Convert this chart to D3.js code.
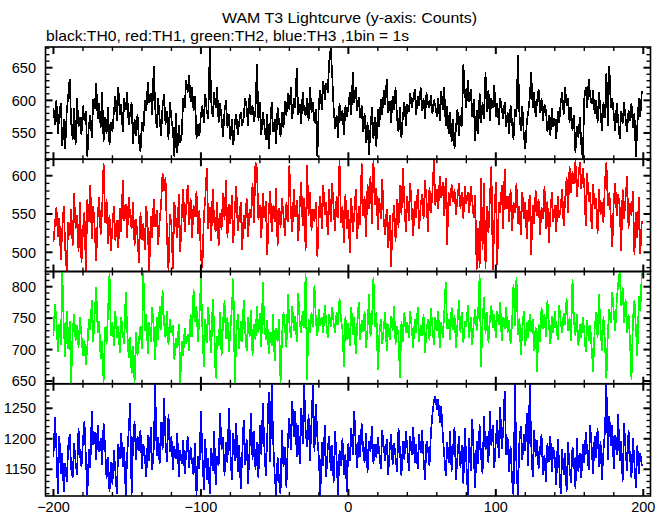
<!DOCTYPE html>
<html>
<head>
<meta charset="utf-8">
<script src="https://cdn.jsdelivr.net/npm/d3@7"></script>
<style>
  html, body { margin: 0; padding: 0; background: #fff; }
  svg { display: block; }
  text { font-family: "Liberation Sans", Arial, sans-serif; fill: #000; }
</style>
</head>
<body>
<div id="chart"></div>
<script>
// ---------------- DATA ----------------
const titleText = "WAM T3 Lightcurve (y-axis: Counts)";
const subtitleText = "black:TH0, red:TH1, green:TH2, blue:TH3 ,1bin = 1s";
const seriesNames = ["TH0", "TH1", "TH2", "TH3"];
const seriesColors = ["#000000", "#ff0000", "#00ff00", "#0000ff"];
const times = d3.range(-200, 200); // 1 s bins
const xTickLabels = [-200, -100, 0, 100, 200];
const yTickLabels = [[550, 600, 650], [500, 550, 600], [650, 700, 750, 800], [1150, 1200, 1250]];
const yDomains = [[509.8, 681.7], [474.9, 621.5], [645.6, 824.2], [1106.2, 1290.2]];

const th0 = [
589,562,601,548,579,596,530,571,526,583,607,633,566,540,588,531,604,559,575,547,
592,569,584,514,561,578,543,602,587,626,571,596,558,612,537,575,548,589,531,566,
552,583,607,569,620,578,594,551,603,585,613,562,580,597,533,571,546,579,538,521,
567,552,601,584,628,596,611,578,652,589,557,604,572,546,591,609,563,584,540,598,
571,556,514,580,520,562,535,548,603,588,631,612,638,597,621,584,606,541,563,545,
578,592,566,609,583,571,681,598,574,612,588,620,565,596,574,544,583,601,558,579,
540,571,531,566,579,547,568,582,561,574,604,588,561,610,577,593,567,585,655,569,
598,547,582,563,540,579,525,561,597,552,571,533,589,566,544,582,558,599,576,611,
586,620,571,604,589,650,578,595,564,612,585,577,603,568,620,581,597,566,586,513,
598,616,585,630,601,627,612,659,680,641,589,556,578,543,596,568,585,547,592,575,
589,612,577,643,596,621,584,605,573,592,551,580,534,567,517,558,589,541,574,529,
586,560,602,578,615,593,632,581,599,566,607,585,620,574,551,589,542,576,598,561,
594,583,611,589,602,617,578,606,591,620,584,603,572,612,595,588,608,579,601,592,
575,603,569,614,586,620,561,592,548,582,536,571,525,559,587,546,578,560,655,612,
589,631,597,618,574,602,538,585,549,611,566,597,571,643,582,616,569,604,588,623,
575,596,563,604,587,571,598,559,582,548,593,567,540,586,574,670,579,553,591,547,
525,566,582,604,643,589,612,574,598,617,581,603,569,594,585,551,577,546,588,560,
572,541,583,565,597,612,578,620,591,604,566,589,553,578,520,561,543,575,532,510,
602,621,588,632,607,594,615,579,601,566,612,584,553,597,573,642,560,653,588,604,
579,553,596,568,541,583,564,597,572,551,585,569,596,557,580,513,562,603,575,614
];
const th1 = [
513,537,559,520,545,490,531,561,503,475,539,522,556,508,577,531,549,500,565,486,
528,553,475,569,540,588,518,561,530,488,547,572,523,556,617,538,570,511,549,502,
534,561,515,542,506,558,527,594,541,563,519,572,548,530,565,508,543,521,486,552,
516,538,503,561,529,476,547,519,570,533,555,509,541,562,604,580,598,521,476,550,
535,478,566,541,519,576,501,548,583,527,559,588,536,571,519,562,546,580,524,555,
492,480,547,572,610,531,559,515,583,540,527,566,508,551,529,578,542,594,519,563,
537,575,512,556,586,528,547,565,503,549,531,571,520,557,545,590,538,618,610,542,
562,519,578,545,567,496,553,580,526,561,539,584,508,558,532,571,548,521,565,539,
614,552,527,583,546,568,515,560,592,534,571,502,614,548,579,528,556,540,566,494,
553,574,531,588,549,566,522,583,540,591,557,528,574,545,620,538,561,512,576,530,
555,499,571,527,549,582,518,560,536,616,548,573,520,589,556,600,537,620,562,584,
529,571,544,596,540,523,557,506,548,481,539,562,514,570,532,588,549,610,563,527,
574,541,590,556,521,567,545,582,530,561,576,543,594,568,527,585,551,579,620,561,
583,556,600,571,592,548,597,510,578,560,589,566,582,549,571,590,557,578,544,586,
563,579,551,587,568,545,575,477,532,480,597,503,591,478,560,525,572,612,477,541,
592,483,566,551,588,530,609,557,574,540,583,528,566,552,590,537,561,522,579,543,
566,518,554,575,496,562,537,581,548,570,523,559,544,586,531,567,512,553,578,540,
562,527,573,545,558,583,534,569,598,551,612,577,606,589,620,572,597,618,583,610,
587,535,603,566,578,530,589,556,571,524,583,549,565,538,592,618,560,578,545,507,
568,591,547,576,559,502,582,544,570,599,531,564,548,580,496,553,519,572,498,541
];
const th2 = [
722,773,748,696,741,708,823,735,689,762,701,746,646,728,757,714,739,703,751,722,
690,715,675,706,748,731,779,712,760,799,727,745,685,714,647,736,708,759,823,721,
744,705,762,718,737,694,751,726,709,791,732,687,720,661,705,646,728,690,715,738,
701,823,729,756,693,744,712,768,735,683,752,716,770,731,795,742,718,761,707,749,
726,739,684,718,702,741,647,713,690,734,709,725,698,757,720,797,744,769,712,751,
813,735,672,749,710,767,728,694,781,738,654,722,705,759,690,743,778,717,752,696,
731,768,813,643,724,756,701,745,712,779,730,697,751,720,763,689,741,715,770,726,
758,704,808,739,716,747,693,728,705,756,682,734,712,749,645,721,760,735,702,788,
741,718,769,730,753,712,790,744,727,762,734,821,651,748,726,759,736,803,744,721,
765,738,752,727,771,745,719,757,736,768,742,726,759,739,782,748,731,673,754,716,
742,705,768,724,751,693,738,776,715,747,728,761,702,734,789,720,744,816,736,759,
667,722,748,709,735,760,697,741,716,753,730,770,708,738,721,654,746,712,759,727,
744,718,761,733,703,749,726,767,712,739,722,756,695,731,748,714,766,736,708,752,
729,761,702,744,718,757,808,733,749,716,768,731,755,703,742,779,727,760,711,745,
736,771,719,752,708,741,765,730,757,820,673,746,783,725,759,711,748,770,734,756,
718,762,739,776,714,751,733,768,727,747,709,741,805,737,816,723,750,691,734,762,
705,743,719,757,728,749,697,736,665,741,712,768,733,756,720,779,741,709,753,727,
761,735,716,771,744,727,758,739,782,730,751,713,813,745,722,756,706,740,719,752,
728,696,747,714,739,702,665,731,759,718,788,735,697,753,712,653,729,764,742,791,
758,729,777,806,824,770,799,743,781,726,757,714,651,748,779,733,690,785,761,822
];
const th3 = [
1170,1235,1182,1110,1205,1143,1176,1112,1160,1129,1187,1208,1151,1136,1193,1162,1141,1217,1174,1154,
1196,1229,1168,1108,1183,1152,1246,1190,1211,1165,1223,1179,1201,1157,1225,1188,1134,1170,1112,1162,
1125,1181,1146,1109,1192,1167,1210,1153,1186,1107,1174,1213,1258,1108,1197,1229,1166,1205,1180,1215,
1151,1192,1170,1138,1206,1163,1219,1149,1184,1290,1172,1203,1158,1227,1181,1266,1196,1162,1240,1178,
1205,1149,1188,1167,1210,1137,1181,1159,1198,1143,1176,1204,1152,1186,1163,1140,1193,1107,1172,1150,
1246,1176,1116,1199,1132,1168,1110,1185,1147,1213,1124,1171,1156,1243,1182,1203,1139,1195,1160,1250,
1178,1132,1209,1164,1226,1145,1190,1118,1172,1231,1157,1200,1126,1184,1243,1166,1212,1149,1195,1136,
1222,1174,1258,1188,1139,1205,1276,1162,1290,1197,1143,1107,1170,1132,1109,1215,1153,1186,1120,1198,
1234,1181,1262,1203,1245,1170,1223,1158,1251,1192,1290,1215,1186,1240,1164,1228,1288,1179,1257,1201,
1168,1107,1195,1156,1222,1137,1183,1205,1148,1190,1128,1213,1167,1108,1182,1155,1201,1141,1175,1112,
1193,1163,1218,1174,1246,1189,1152,1206,1171,1225,1183,1160,1210,1144,1197,1178,1221,1158,1192,1169,
1203,1176,1150,1214,1187,1163,1199,1140,1182,1208,1157,1193,1171,1146,1218,1180,1139,1196,1166,1212,
1185,1148,1204,1173,1219,1161,1192,1150,1208,1176,1214,1168,1132,1197,1183,1155,1210,1240,1262,1270,
1248,1265,1226,1253,1208,1174,1139,1195,1160,1212,1146,1183,1220,1133,1171,1205,1152,1190,1126,1217,
1163,1108,1201,1147,1232,1175,1119,1196,1158,1224,1170,1142,1238,1181,1205,1160,1245,1189,1223,1152,
1197,1230,1168,1252,1184,1211,1279,1173,1202,1146,1188,1133,1107,1290,1154,1108,1196,1221,1165,1207,
1180,1243,1156,1290,1192,1137,1215,1171,1198,1150,1182,1208,1141,1174,1130,1193,1162,1205,1145,1186,
1168,1124,1199,1157,1109,1183,1140,1176,1112,1194,1152,1128,1187,1163,1118,1201,1146,1177,1135,1192,
1160,1211,1178,1149,1223,1186,1142,1205,1169,1218,1154,1196,1133,1180,1212,1290,1165,1237,1188,1222,
1150,1206,1174,1241,1163,1196,1130,1225,1181,1148,1214,1170,1135,1202,1158,1119,1189,1143,1176,1156
];
const seriesValues = [th0, th1, th2, th3];

// ---------------- LAYOUT ----------------
const W = 669, H = 515;
const plotLeft = 45.5, plotRight = 650.5, plotTop = 47, plotBottom = 496;
const nP = seriesValues.length;
const pH = (plotBottom - plotTop) / nP;
const majLen = 7, minLen = 4;

const svg = d3.select("#chart").append("svg").attr("width", W).attr("height", H);

svg.append("text").attr("x", 349.5).attr("y", 23).attr("text-anchor", "middle")
  .attr("font-size", 15).attr("textLength", 255).attr("lengthAdjust", "spacingAndGlyphs")
  .text(titleText);
svg.append("text").attr("x", 46).attr("y", 41).attr("text-anchor", "start")
  .attr("font-size", 15).attr("textLength", 363).attr("lengthAdjust", "spacingAndGlyphs")
  .text(subtitleText);

const x = d3.scaleLinear().domain([-205.4, 204.9]).range([plotLeft, plotRight]);
const xMinor = d3.range(-200, 201, 20);
const xMajor = d3.range(-200, 201, 100);

seriesValues.forEach((vals, p) => {
  const y0 = plotTop + p * pH, y1 = y0 + pH;
  const y = d3.scaleLinear().domain(yDomains[p]).range([y1, y0]);
  const g = svg.append("g");
  const clipId = "clip" + p;
  svg.append("clipPath").attr("id", clipId).append("rect")
    .attr("x", plotLeft).attr("y", y0).attr("width", plotRight - plotLeft).attr("height", pH);

  const line = d3.line().x((d, i) => x(times[i])).y(d => y(d));
  g.append("path").datum(vals)
    .attr("clip-path", `url(#${clipId})`)
    .attr("fill", "none").attr("stroke", seriesColors[p]).attr("stroke-width", 1.7)
    .attr("stroke-linejoin", "miter").attr("stroke-miterlimit", 2)
    .attr("shape-rendering", "crispEdges")
    .attr("d", line);

  // frame
  g.append("rect").attr("x", plotLeft).attr("y", y0).attr("width", plotRight - plotLeft).attr("height", pH)
    .attr("fill", "none").attr("stroke", "#000").attr("stroke-width", 1.6);

  // y ticks
  const [d0, d1] = yDomains[p];
  const yMinor = d3.range(Math.ceil(d0 / 10) * 10, d1, 10);
  yMinor.forEach(v => {
    const isMaj = v % 50 === 0;
    const len = isMaj ? majLen : minLen;
    const sw = isMaj ? 2 : 1.4;
    const yy = y(v);
    g.append("line").attr("x1", plotLeft).attr("x2", plotLeft + len).attr("y1", yy).attr("y2", yy)
      .attr("stroke", "#000").attr("stroke-width", sw);
    g.append("line").attr("x1", plotRight).attr("x2", plotRight - len).attr("y1", yy).attr("y2", yy)
      .attr("stroke", "#000").attr("stroke-width", sw);
  });
  // x ticks top & bottom
  xMinor.forEach(t => {
    const isMaj = xMajor.includes(t);
    const len = isMaj ? majLen : minLen;
    const sw = isMaj ? 2 : 1.4;
    const xx = x(t);
    g.append("line").attr("x1", xx).attr("x2", xx).attr("y1", y0).attr("y2", y0 + len)
      .attr("stroke", "#000").attr("stroke-width", sw);
    g.append("line").attr("x1", xx).attr("x2", xx).attr("y1", y1).attr("y2", y1 - len)
      .attr("stroke", "#000").attr("stroke-width", sw);
  });
  // y labels
  yTickLabels[p].forEach(v => {
    g.append("text").attr("x", 36).attr("y", y(v)).attr("dy", "0.36em")
      .attr("text-anchor", "end").attr("font-size", 14.5).text(v);
  });
});

// x labels
xTickLabels.forEach(t => {
  svg.append("text").attr("x", x(t)).attr("y", 512).attr("text-anchor", "middle")
    .attr("font-size", 14.5).text(t < 0 ? "\u2212" + Math.abs(t) : String(t));
});
</script>
</body>
</html>
